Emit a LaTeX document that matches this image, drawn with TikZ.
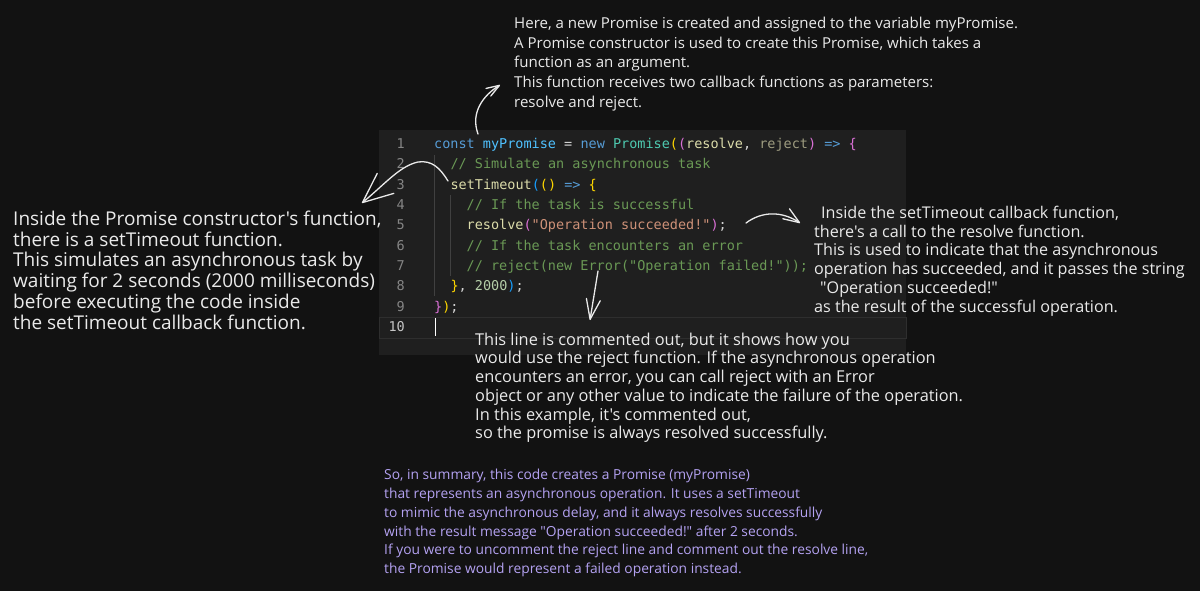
\documentclass[tikz,border=0pt]{standalone}
\usepackage{fontspec}
\usetikzlibrary{arrows.meta}
\newfontfamily\handfont{Open Sans}[Ligatures=TeXOff]
\newfontfamily\codefont{DejaVu Sans Mono}[Ligatures=TeXOff]
\definecolor{bgc}{HTML}{121212}
\definecolor{panelc}{HTML}{1F1F1F}
\definecolor{handc}{HTML}{EAEAEA}
\definecolor{sumc}{HTML}{B4A2F2}
\definecolor{ckw}{HTML}{569CD6}
\definecolor{ccn}{HTML}{4FC1FF}
\definecolor{cty}{HTML}{4EC9B0}
\definecolor{cfn}{HTML}{DCDCAA}
\definecolor{cst}{HTML}{CE9178}
\definecolor{cnu}{HTML}{B5CEA8}
\definecolor{cco}{HTML}{6A9955}
\definecolor{cpl}{HTML}{D4D4D4}
\definecolor{cgo}{HTML}{FFD700}
\definecolor{cor}{HTML}{DA70D6}
\definecolor{cbl}{HTML}{179FFF}
\definecolor{cfa}{HTML}{9E9C80}
\definecolor{lnumc}{HTML}{858585}
\definecolor{lnumact}{HTML}{C6C6C6}
\definecolor{guidec}{HTML}{404040}
\definecolor{curlinec}{HTML}{2E2E2E}
\newcommand\zzkw[1]{\textcolor{ckw}{#1}}
\newcommand\zzcn[1]{\textcolor{ccn}{#1}}
\newcommand\zzty[1]{\textcolor{cty}{#1}}
\newcommand\zzfn[1]{\textcolor{cfn}{#1}}
\newcommand\zzst[1]{\textcolor{cst}{#1}}
\newcommand\zznu[1]{\textcolor{cnu}{#1}}
\newcommand\zzco[1]{\textcolor{cco}{#1}}
\newcommand\zzgo[1]{\textcolor{cgo}{#1}}
\newcommand\zzor[1]{\textcolor{cor}{#1}}
\newcommand\zzbl[1]{\textcolor{cbl}{#1}}
\newcommand\zzfa[1]{\textcolor{cfa}{#1}}
\tikzset{
  codeline/.style={anchor=base west, inner sep=0pt, text=cpl, font=\codefont\fontsize{13.5}{16}\selectfont},
  lineno/.style={anchor=base east, inner sep=0pt, text=lnumc, font=\codefont\fontsize{13.5}{16}\selectfont},
  note/.style={anchor=north west, inner sep=0pt, align=left, text=handc},
  handarrow/.style={draw=handc, line width=1.3pt, line cap=round, line join=round},
}
\begin{document}
\begin{tikzpicture}[x=1pt,y=-1pt]
\useasboundingbox (0,0) rectangle (1200,591);
\fill[bgc] (0,0) rectangle (1200,591);
% code panel
\fill[panelc] (379,130) rectangle (906,355);
\draw[curlinec, line width=1pt] (379,317) rectangle (906,338);
% indent guides
\draw[guidec, line width=0.8pt] (434.5,155) -- (434.5,296);
\draw[guidec, line width=0.8pt] (450.8,195) -- (450.8,276);
% line numbers
\node[lineno] (n1) at (405,148.7) {1};
\node[lineno] (n2) at (405,169.0) {2};
\node[lineno] (n3) at (405,189.3) {3};
\node[lineno] (n4) at (405,209.6) {4};
\node[lineno] (n5) at (405,229.9) {5};
\node[lineno] (n6) at (405,250.2) {6};
\node[lineno] (n7) at (405,270.5) {7};
\node[lineno] (n8) at (405,290.8) {8};
\node[lineno] (n9) at (405,311.1) {9};
\node[lineno, text=lnumact] (n10) at (405,331.4) {10};
% code
\node[codeline] (c1) at (434,148.7) {\zzkw{const} \zzcn{myPromise} = \zzkw{new} \zzty{Promise}\zzgo{(}\zzor{(}\zzfn{resolve}, \zzfa{reject}\zzor{)} \zzkw{=>} \zzor{\{}};
\node[codeline] (c2) at (450.3,169.0) {\zzco{// Simulate an asynchronous task}};
\node[codeline] (c3) at (450.3,189.3) {\zzfn{setTimeout}\zzbl{(}\zzgo{()} \zzkw{=>} \zzgo{\{}};
\node[codeline] (c4) at (466.5,209.6) {\zzco{// If the task is successful}};
\node[codeline] (c5) at (466.5,229.9) {\zzfn{resolve}\zzor{(}\zzst{"Operation succeeded!"}\zzor{)};};
\node[codeline] (c6) at (466.5,250.2) {\zzco{// If the task encounters an error}};
\node[codeline] (c7) at (466.5,270.5) {\zzco{// reject(new Error("Operation failed!"));}};
\node[codeline] (c8) at (450.3,290.8) {\zzgo{\}}, \zznu{2000}\zzbl{)};};
\node[codeline] (c9) at (434,311.1) {\zzor{\}}\zzgo{)};};
\draw[white, line width=1.4pt] (435.5,318) -- (435.5,336);
% notes
\node[note, font=\handfont\fontsize{15.05}{19.7}\selectfont] (top) at (514,16.7) {Here, a new Promise is created and assigned to the variable myPromise.\\A Promise constructor is used to create this Promise, which takes a\\function as an argument.\\This function receives two callback functions as parameters:\\resolve and reject.};
\node[note, font=\handfont\fontsize{19}{20.8}\selectfont] (left) at (13,210.6) {Inside the Promise constructor's function,\\there is a setTimeout function.\\This simulates an asynchronous task by\\waiting for 2 seconds (2000 milliseconds)\\before executing the code inside\\the setTimeout callback function.};
\node[note, font=\handfont\fontsize{16.15}{18.8}\selectfont] (right) at (814,205.8) {\hspace*{7pt}Inside the setTimeout callback function,\\there's a call to the resolve function.\\This is used to indicate that the asynchronous\\operation has succeeded, and it passes the string\\\hspace*{6pt}"Operation succeeded!"\\as the result of the successful operation.};
\node[note, font=\handfont\fontsize{16.35}{18.7}\selectfont] (mid) at (475,332.6) {This line is commented out, but it shows how you\\would use the reject function. If the asynchronous operation\\encounters an error, you can call reject with an Error\\object or any other value to indicate the failure of the operation.\\In this example, it's commented out,\\so the promise is always resolved successfully.};
\node[note, text=sumc, font=\handfont\fontsize{13.8}{18.8}\selectfont] (sum) at (384,469) {So, in summary, this code creates a Promise (myPromise)\\that represents an asynchronous operation. It uses a setTimeout\\to mimic the asynchronous delay, and it always resolves successfully\\with the result message "Operation succeeded!" after 2 seconds.\\If you were to uncomment the reject line and comment out the resolve line,\\the Promise would represent a failed operation instead.};
% arrows
\coordinate (a1s) at (478,134);
\coordinate (a1e) at (500,85);
\draw[handarrow, -{Straight Barb[length=13pt,width=9pt,round]}] (a1s) .. controls (470,112) and (484,95) .. (a1e);
\coordinate (a2s) at (448,181);
\coordinate (a2m) at (418,162);
\coordinate (a2e) at (362,203);
\draw[handarrow, -{Straight Barb[length=30pt,width=26pt,round]}] (a2s) .. controls (440,168) and (432,160) .. (a2m) .. controls (400,166) and (386,183) .. (a2e);
\coordinate (a3s) at (746,223);
\coordinate (a3e) at (800,223);
\draw[handarrow, -{Straight Barb[length=16pt,width=12pt,round]}] (a3s) .. controls (762,211) and (782,211) .. (a3e);
\coordinate (a4s) at (598,271);
\coordinate (a4e) at (590,320);
\draw[handarrow, -{Straight Barb[length=20pt,width=14pt,round]}] (a4s) -- (a4e);
\end{tikzpicture}
\end{document}
